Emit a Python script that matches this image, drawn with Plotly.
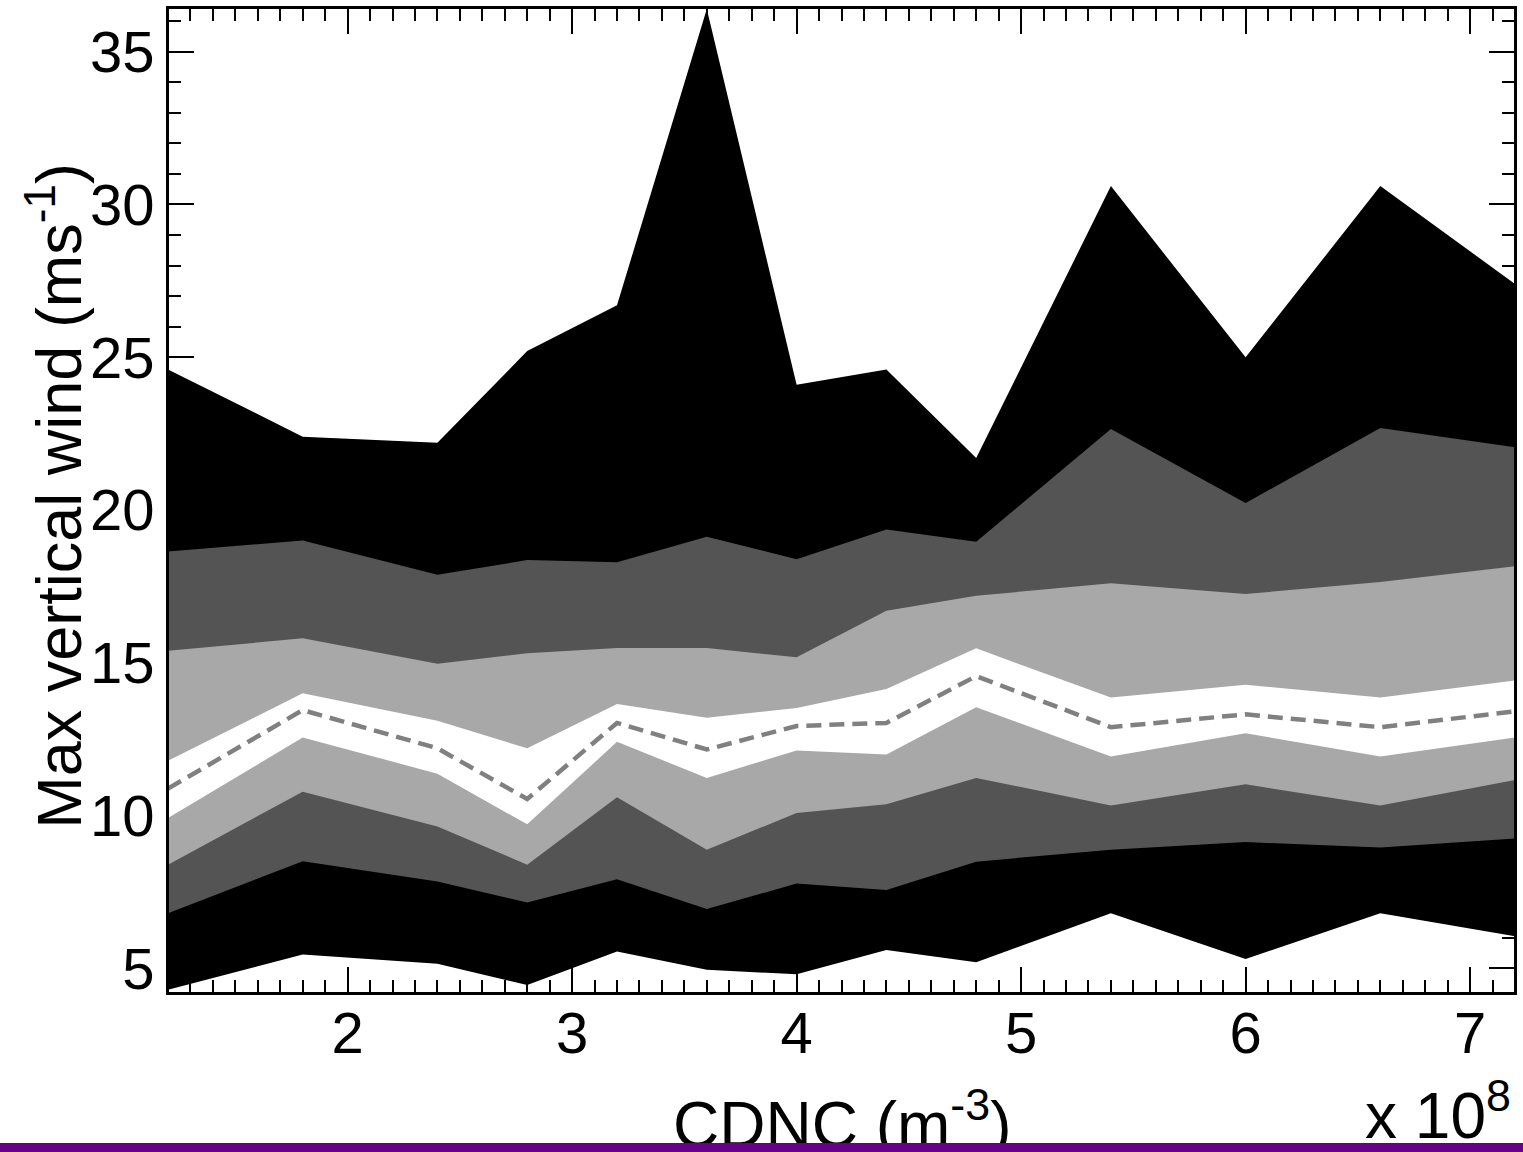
import plotly.graph_objects as go

# ---- data ----
cdnc = [1.2, 1.8, 2.4, 2.8, 3.2, 3.6, 4.0, 4.4, 4.8, 5.4, 6.0, 6.6, 7.2]   # x 10^8 m^-3
w_max    = [24.6, 22.4, 22.2, 25.2, 26.7, 36.4, 24.1, 24.6, 21.7, 30.6, 25.0, 30.6, 27.4]
w_upper2 = [18.64, 19.0, 17.88, 18.36, 18.29, 19.12, 18.39, 19.36, 18.96, 22.65, 20.23, 22.68, 22.05]
w_upper1 = [15.39, 15.8, 14.97, 15.31, 15.48, 15.48, 15.18, 16.7, 17.19, 17.6, 17.25, 17.64, 18.16]
w_upper0 = [11.79, 14.0, 13.1, 12.2, 13.65, 13.2, 13.52, 14.14, 15.47, 13.86, 14.28, 13.86, 14.42]
w_median = [10.88, 13.45, 12.2, 10.54, 13.03, 12.16, 12.93, 13.03, 14.56, 12.89, 13.31, 12.89, 13.41]
w_lower0 = [9.92, 12.55, 11.37, 9.71, 12.41, 11.23, 12.13, 12.0, 13.54, 11.93, 12.69, 11.93, 12.55]
w_lower1 = [8.39, 10.78, 9.64, 8.39, 10.6, 8.88, 10.08, 10.37, 11.23, 10.33, 11.02, 10.33, 11.16]
w_lower2 = [6.80, 8.5, 7.84, 7.15, 7.91, 6.94, 7.77, 7.56, 8.49, 8.88, 9.13, 8.95, 9.25]
w_min    = [4.3, 5.45, 5.15, 4.45, 5.55, 4.95, 4.8, 5.6, 5.2, 6.8, 5.3, 6.8, 6.05]

x_ticks = [2, 3, 4, 5, 6, 7]
y_ticks = [5, 10, 15, 20, 25, 30, 35]

FONT = "Liberation Sans, Arial, Helvetica, sans-serif"


def band(lo, hi, color):
    return go.Scatter(
        x=cdnc + cdnc[::-1],
        y=hi + lo[::-1],
        fill="toself",
        fillcolor=color,
        mode="lines",
        line=dict(width=0, color=color),
        hoverinfo="skip",
        showlegend=False,
    )


fig = go.Figure()
fig.add_trace(band(w_min, w_max, "#000000"))
fig.add_trace(band(w_lower2, w_upper2, "#545454"))
fig.add_trace(band(w_lower1, w_upper1, "#a8a8a8"))
fig.add_trace(band(w_lower0, w_upper0, "#ffffff"))
fig.add_trace(go.Scatter(
    x=cdnc, y=w_median, mode="lines",
    line=dict(color="#808080", width=4.5, dash="15px,8px"),
    hoverinfo="skip", showlegend=False,
))

axis_common = dict(
    showgrid=False, zeroline=False,
    showline=True, linecolor="black", linewidth=2,
    mirror="ticks", ticks="inside", ticklen=26, tickwidth=2, tickcolor="black",
    layer="below traces",
    tickfont=dict(family=FONT, size=58, color="black"),
)

fig.update_xaxes(
    range=[1.2, 7.2], tickvals=x_ticks, ticktext=[str(v) for v in x_ticks],
    minor=dict(dtick=0.1, tick0=0, ticks="inside", ticklen=13, tickwidth=2, tickcolor="black"),
    ticklabelstandoff=-12,
    **axis_common,
)
fig.update_yaxes(
    range=[4.19, 36.43], tickvals=y_ticks, ticktext=[str(v) for v in y_ticks],
    minor=dict(dtick=1, tick0=0, ticks="inside", ticklen=13, tickwidth=2, tickcolor="black"),
    **axis_common,
)

fig.update_layout(
    width=1523, height=1152,
    margin=dict(l=168, r=6, t=8, b=159),
    paper_bgcolor="white", plot_bgcolor="white",
    font=dict(family=FONT, color="black"),
    shapes=[
        dict(type="rect", xref="paper", yref="paper", x0=0, x1=1, y0=0, y1=1,
             line=dict(color="black", width=2), fillcolor="rgba(0,0,0,0)", layer="above"),
    ],
    annotations=[
        dict(text="Max vertical wind (ms<sup>-1</sup>)", textangle=-90,
             xref="paper", yref="paper", x=-0.0845, y=0.505,
             xanchor="center", yanchor="middle", showarrow=False,
             font=dict(family=FONT, size=63, color="black")),
        dict(text="CDNC (m<sup>-3</sup>)",
             xref="paper", yref="paper", x=0.5, y=-0.0853,
             xanchor="center", yanchor="top", showarrow=False,
             font=dict(family=FONT, size=64, color="black")),
        dict(text="x 10<sup>8</sup>",
             xref="paper", yref="paper", x=0.9985, y=-0.0761,
             xanchor="right", yanchor="top", showarrow=False,
             font=dict(family=FONT, size=64, color="black")),
        dict(text=" ", xref="paper", yref="paper", x=0.44, y=-0.1574,
             xanchor="center", yanchor="middle", showarrow=False,
             width=1560, height=10, bgcolor="#660088", borderpad=0, borderwidth=0,
             font=dict(size=1, color="#660088")),
    ],
)

fig.write_html("out.html")
